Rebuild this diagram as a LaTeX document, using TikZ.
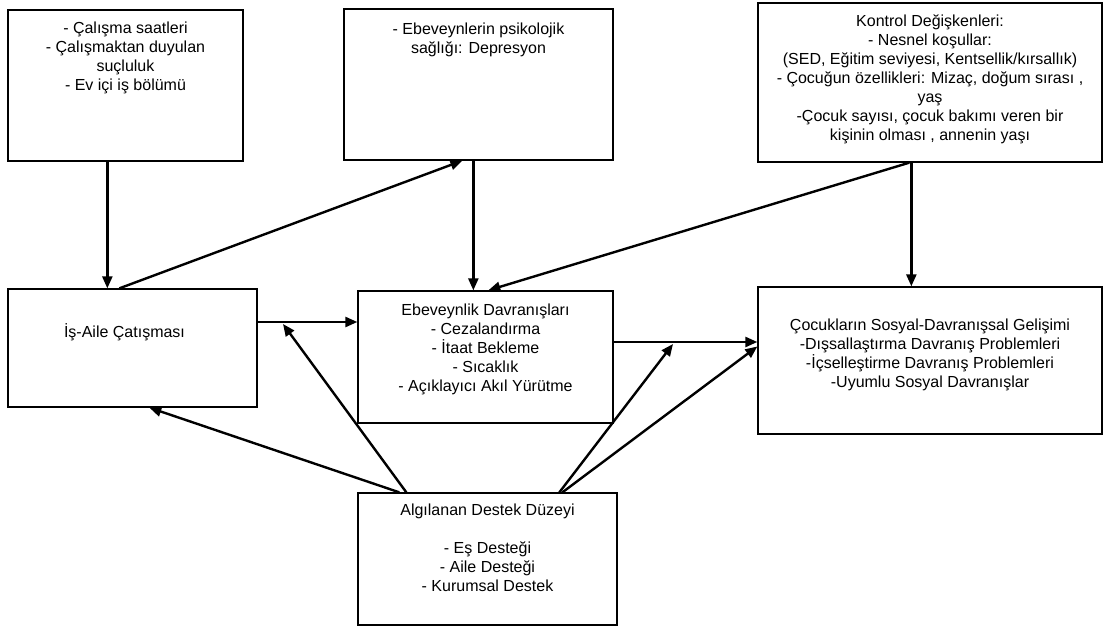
\documentclass[tikz,border=0pt]{standalone}
\usepackage{fontspec}
\setmainfont{Liberation Sans}
\usetikzlibrary{arrows.meta}
\begin{document}
\begin{tikzpicture}[x = 1pt, y = -1pt]
	\tikzstyle{every node} = [font = \fontsize{16}{19}\selectfont]
	\tikzstyle{box} = [draw, line width = 1.3pt, rectangle, inner sep = 0pt]
	\tikzstyle{txt} = [align = center, inner sep = 0pt, anchor = north]
	\tikzstyle{arr} = [line width = 2.4pt, -{Triangle[length = 12pt, width = 10pt]}]
	\useasboundingbox (0,0) rectangle (1105,628);

	% boxes
	\node [box, minimum width = 235pt, minimum height = 151pt] (A) at (125.5,85.5) {};
	\node [box, minimum width = 269pt, minimum height = 151pt] (B) at (478.5,84.5) {};
	\node [box, minimum width = 344pt, minimum height = 159pt] (C) at (930,82.5) {};
	\node [box, minimum width = 249pt, minimum height = 118pt] (D) at (132.5,348) {};
	\node [box, minimum width = 255pt, minimum height = 132pt] (E) at (485.5,357) {};
	\node [box, minimum width = 344pt, minimum height = 147pt] (F) at (930,360.5) {};
	\node [box, minimum width = 259pt, minimum height = 132pt] (G) at (487.5,559) {};

	% texts
	\node [txt] (A-t) at ([yshift = -12pt]A.north) {- Çalışma saatleri\\- Çalışmaktan duyulan\\suçluluk\\- Ev içi iş bölümü};
	\node [txt] (B-t) at ([yshift = -14pt]B.north) {- Ebeveynlerin psikolojik\\sağlığı: Depresyon};
	\node [txt] (C-t) at ([yshift = -12pt]C.north) {Kontrol Değişkenleri:\\- Nesnel koşullar:\\(SED, Eğitim seviyesi, Kentsellik/kırsallık)\\- Çocuğun özellikleri: Mizaç, doğum sırası ,\\yaş\\-Çocuk sayısı, çocuk bakımı veren bir\\kişinin olması , annenin yaşı};
	\node [txt, anchor = center] (D-t) at ([xshift = -8pt, yshift = 16pt]D.center) {İş-Aile Çatışması};
	\node [txt] (E-t) at ([yshift = -13pt]E.north) {Ebeveynlik Davranışları\\- Cezalandırma\\- İtaat Bekleme\\- Sıcaklık\\- Açıklayıcı Akıl Yürütme};
	\node [txt] (F-t) at ([yshift = -32pt]F.north) {Çocukların Sosyal-Davranışsal Gelişimi\\-Dışsallaştırma Davranış Problemleri\\-İçselleştirme Davranış Problemleri\\-Uyumlu Sosyal Davranışlar};
	\node [txt] (G-t) at ([yshift = -11pt]G.north) {Algılanan Destek Düzeyi\\[19pt]- Eş Desteği\\- Aile Desteği\\- Kurumsal Destek};

	% free ends on the two horizontal arrows
	\coordinate (m1) at (283,324);
	\coordinate (m2) at (673,344);

	\draw [arr] ([xshift = 100pt]A.south west) -- ([xshift = 100pt]D.north west); %A to D
	\draw [arr] ([xshift = 112pt]D.north west) -- ([xshift = 119pt]B.south west); %D to B
	\draw [arr] ([xshift = 130pt]B.south west) -- ([xshift = 116pt]E.north west); %B to E
	\draw [arr] ([xshift = 152pt]C.south west) -- ([xshift = 131pt]E.north west); %C to E
	\draw [arr] ([xshift = 154pt]C.south west) -- ([xshift = 154pt]F.north west); %C to F
	\draw [arr] ([yshift = 26pt]D.east) -- ([yshift = 35pt]E.west); %D to E
	\draw [arr] ([yshift = 15pt]E.east) -- ([yshift = 18.5pt]F.west); %E to F

	\draw [arr] ([xshift = 49pt]G.north west) -- (m1); %G to D-E
	\draw [arr] ([xshift = 42pt]G.north west) -- ([xshift = 142pt]D.south west); %G to D
	\draw [arr] ([xshift = 202pt]G.north west) -- (m2); %G to E-F
	\draw [arr] ([xshift = 205pt]G.north west) -- ([yshift = 14pt]F.west); %G to F
\end{tikzpicture}
\end{document}
